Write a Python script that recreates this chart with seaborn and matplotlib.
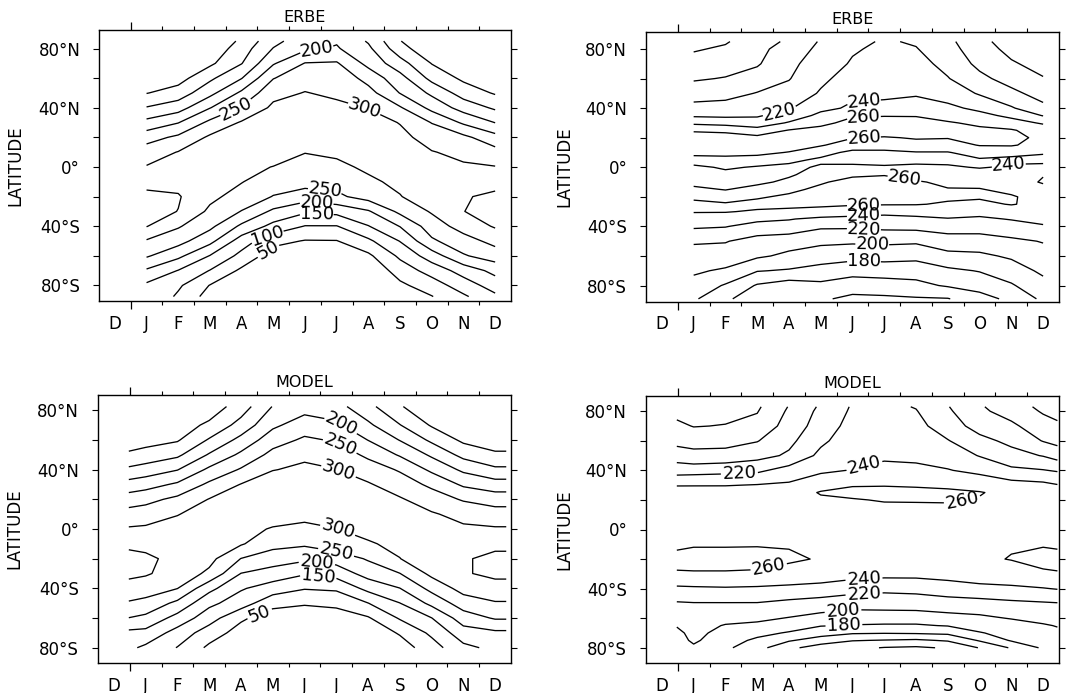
import numpy as np
import matplotlib
matplotlib.use("Agg")
import matplotlib.pyplot as plt
import seaborn as sns

# ---------------- axis text ----------------
MONTH_LABELS = ["D", "J", "F", "M", "A", "M", "J", "J", "A", "S", "O", "N", "D"]
LAT_TICKS = [80, 40, 0, -40, -80]
LAT_TICK_LABELS = ["80°N", "40°N", "0°", "40°S", "80°S"]

# ---------------- ERBE absorbed solar (top left) ----------------
ERBE_ASR_X = [1.5, 2.5, 3.5, 4.5, 5.5, 6.5, 7.5, 8.5, 9.5, 10.5, 11.5, 12.5]
ERBE_ASR_LAT = [85, 80, 70, 60, 50, 40, 30, 20, 10, 0, -10, -20, -30, -40, -50, -60, -70, -80, -87.5]
ERBE_ASR = [  # one list per month, values along ERBE_ASR_LAT
    [0, 0, 5, 22, 48, 103, 165, 230, 275, 303, 335, 362, 368, 352, 295, 256, 193, 140, 145],
    [0, 3, 15, 30, 72, 128, 198, 260, 302, 320, 335, 354, 349, 305, 268, 212, 148, 108, 92],
    [5, 15, 40, 90, 135, 198, 262, 308, 322, 325, 320, 312, 290, 262, 215, 148, 98, 48, 30],
    [60, 75, 98, 148, 210, 255, 305, 330, 320, 310, 302, 280, 248, 190, 125, 85, 40, 12, 3],
    [135, 152, 195, 248, 285, 310, 340, 340, 318, 299, 272, 248, 190, 135, 65, 25, 10, 0, 0],
    [180, 190, 252, 280, 302, 330, 345, 335, 302, 275, 270, 225, 158, 98, 47, 15, 0, 0, 0],
    [195, 205, 255, 285, 290, 312, 335, 328, 308, 290, 268, 240, 165, 98, 48, 15, 0, 0, 0],
    [145, 160, 185, 232, 268, 298, 320, 322, 315, 308, 292, 270, 195, 148, 90, 40, 10, 0, 0],
    [52, 70, 120, 168, 198, 255, 298, 312, 318, 316, 310, 298, 262, 202, 152, 110, 72, 40, 25],
    [0, 10, 48, 85, 140, 185, 248, 282, 302, 318, 330, 328, 305, 275, 242, 175, 120, 75, 48],
    [0, 0, 15, 40, 78, 130, 192, 262, 290, 305, 330, 345, 349, 320, 280, 245, 170, 125, 92],
    [0, 0, 3, 20, 45, 92, 149, 218, 268, 302, 330, 362, 372, 355, 315, 275, 215, 172, 140],
]

# ---------------- ERBE outgoing longwave (top right) ----------------
ERBE_OLR_X = [1.5, 2.5, 3.5, 4.5, 5.5, 6.5, 7.5, 8.5, 9.5, 10.5, 11.5, 12.5]
ERBE_OLR_LAT = [85, 80, 70, 60, 50, 40, 35, 30, 25, 20, 15, 10, 5, 0, -5, -10, -15, -20, -25,
                -30, -35, -40, -50, -60, -70, -80, -89]
ERBE_OLR = [
    [155, 158, 168, 178, 190, 207, 217, 236, 257, 272, 275, 266, 252, 235, 230, 233, 245, 256, 265, 261, 253, 243, 222, 213, 203, 193, 183],
    [158, 163, 172, 181, 193, 208, 216, 233, 255, 270, 273, 265, 255, 243, 234, 231, 239, 252, 262, 261, 251, 241, 221, 212, 197, 178, 163],
    [172, 175, 178, 188, 201, 213, 218, 228, 248, 265, 270, 265, 252, 238, 232, 235, 248, 258, 265, 258, 245, 232, 213, 203, 181, 158, 150],
    [183, 188, 195, 199, 207, 218, 228, 242, 261, 268, 270, 259, 244, 236, 237, 245, 256, 263, 266, 255, 241, 233, 208, 196, 178, 150, 145],
    [202, 205, 210, 216, 222, 235, 245, 255, 266, 270, 262, 246, 237, 242, 250, 258, 264, 266, 264, 253, 236, 223, 205, 188, 174, 155, 143],
    [215, 218, 222, 228, 236, 243, 258, 266, 272, 261, 249, 236, 234, 244, 257, 266, 270, 268, 262, 250, 234, 223, 203, 187, 167, 150, 135],
    [222, 224, 228, 232, 237, 244, 259, 268, 274, 258, 249, 236, 234, 242, 259, 267, 271, 268, 261, 249, 230, 225, 204, 188, 168, 152, 136],
    [218, 221, 227, 231, 238, 248, 259, 266, 271, 262, 252, 239, 236, 243, 252, 262, 268, 266, 261, 247, 236, 226, 203, 186, 168, 155, 138],
    [205, 208, 214, 221, 232, 244, 252, 262, 266, 261, 252, 239, 236, 242, 250, 256, 261, 263, 258, 248, 239, 230, 210, 195, 176, 162, 139],
    [185, 188, 195, 205, 218, 236, 245, 256, 264, 266, 261, 248, 238, 239, 247, 254, 261, 262, 256, 246, 237, 228, 212, 196, 181, 168, 152],
    [172, 175, 182, 192, 205, 222, 236, 247, 262, 266, 262, 244, 237, 242, 247, 250, 255, 262, 261, 250, 241, 233, 216, 203, 190, 178, 165],
    [165, 168, 174, 181, 192, 205, 219, 238, 250, 255, 252, 241, 237, 243, 241, 238, 247, 252, 255, 253, 246, 238, 221, 213, 204, 193, 184],
]

# ---------------- MODEL absorbed solar (bottom left) ----------------
MODEL_ASR_X = [0.97, 1.5, 2.5, 3.5, 4.5, 5.5, 6.5, 7.5, 8.5, 9.5, 10.5, 11.5, 12.5, 12.85]
MODEL_ASR_LAT = [82.5, 70, 60, 50, 40, 30, 20, 10, 0, -10, -20, -30, -40, -50, -60, -70, -80]
MODEL_ASR = [
    [0, 5, 25, 58, 110, 170, 225, 270, 305, 340, 365, 362, 330, 295, 249, 188, 160],
    [0, 10, 32, 68, 122, 180, 235, 275, 308, 338, 358, 355, 325, 285, 238, 185, 140],
    [5, 25, 45, 90, 148, 208, 262, 298, 318, 330, 338, 330, 301, 238, 182, 130, 98],
    [20, 60, 105, 155, 210, 260, 302, 320, 325, 322, 315, 290, 215, 162, 122, 75, 40],
    [75, 118, 165, 210, 255, 302, 330, 332, 320, 305, 249, 199, 155, 125, 58, 30, 10],
    [152, 190, 228, 265, 298, 328, 340, 330, 295, 265, 226, 178, 127, 65, 25, 10, 0],
    [180, 225, 258, 290, 310, 335, 340, 318, 285, 258, 210, 155, 103, 55, 20, 5, 0],
    [168, 210, 245, 278, 301, 325, 335, 322, 299, 280, 222, 170, 108, 62, 25, 8, 0],
    [115, 160, 199, 240, 275, 305, 318, 320, 315, 295, 255, 220, 165, 99, 45, 15, 0],
    [55, 102, 148, 195, 245, 275, 305, 315, 318, 312, 299, 249, 199, 149, 105, 55, 25],
    [10, 45, 90, 142, 190, 240, 275, 305, 322, 335, 335, 312, 265, 213, 149, 110, 78],
    [0, 15, 40, 85, 140, 192, 245, 285, 308, 330, 345, 345, 318, 275, 225, 178, 138],
    [0, 5, 25, 58, 110, 172, 228, 272, 305, 338, 362, 362, 330, 296, 255, 190, 162],
    [0, 5, 25, 58, 110, 172, 228, 272, 305, 338, 362, 362, 330, 296, 255, 190, 162],
]

# ---------------- MODEL outgoing longwave (bottom right) ----------------
MODEL_OLR_X = [0.97, 1.5, 2.5, 3.5, 4.5, 5.5, 6.5, 7.5, 8.5, 9.5, 10.5, 11.5, 12.5, 12.95]
MODEL_OLR_LAT = [83, 80, 70, 60, 50, 40, 30, 25, 20, 10, 0, -10, -20, -30, -40, -50, -60, -65, -70, -75, -80]
MODEL_OLR = [
    [150, 153, 165, 174, 190, 211, 239, 248, 252, 254, 256, 258, 263, 259, 236, 218, 207, 201, 196, 193, 190],
    [150, 154, 159, 175, 184, 212, 239, 249, 253, 255, 256, 259, 264, 259, 237, 219, 209, 206, 205, 203, 197],
    [150, 153, 161, 174, 186, 214, 239, 250, 254, 256, 257, 259, 264, 259, 238, 219, 205, 199, 194, 189, 184],
    [157, 159, 166, 179, 193, 216, 241, 251, 255, 257, 258, 259, 265, 258, 237, 219, 204, 196, 186, 176, 167],
    [181, 183, 188, 195, 203, 228, 243, 253, 257, 258, 258, 259, 262, 255, 235, 215, 199, 190, 178, 162, 145],
    [203, 205, 209, 216, 225, 236, 255, 261, 258, 256, 256, 257, 259, 253, 232, 212, 193, 181, 168, 151, 130],
    [222, 223, 227, 231, 236, 241, 259, 264, 259, 254, 253, 256, 257, 248, 227, 209, 188, 179, 162, 141, 125],
    [225, 226, 229, 233, 237, 245, 259, 266, 261, 254, 252, 255, 256, 246, 224, 210, 188, 178, 161, 139, 119],
    [219, 221, 226, 231, 236, 244, 258, 265, 261, 255, 253, 255, 256, 246, 225, 211, 188, 178, 162, 137, 117],
    [201, 203, 210, 221, 231, 241, 257, 263, 261, 256, 254, 256, 257, 248, 230, 212, 193, 181, 164, 142, 122],
    [182, 184, 192, 206, 219, 235, 253, 261, 259, 257, 256, 257, 258, 252, 234, 213, 196, 186, 179, 162, 141],
    [170, 172, 184, 195, 207, 224, 248, 255, 257, 258, 258, 259, 260.5, 254, 236, 216, 201, 192, 185, 182, 162],
    [155, 158, 168, 179, 199, 221, 245, 252, 255, 256, 257, 259, 264, 258, 239, 218, 206, 198, 194, 189, 183],
    [150, 153, 164, 174, 192, 218, 241, 249, 253, 255, 256, 258, 264, 259, 241, 219, 207, 201, 196, 192, 188],
]

ASR_LEVELS = [50, 100, 150, 200, 250, 300, 350]
OLR_LEVELS = [120, 140, 160, 180, 200, 220, 240, 260]

# label anchor points (x in months, y in latitude)
ERBE_ASR_LABELS = [(6.87, 79.5), (4.34, 38.8), (8.34, 36.6), (7.13, -15.3), (6.87, -23.3),
                   (6.87, -31.2), (5.31, -46.5), (5.34, -56.4)]
ERBE_OLR_LABELS = [(4.19, 39.1), (6.86, 43.6), (6.86, 32.3), (6.86, 19.2), (11.41, 3.4),
                   (8.14, -6.8), (6.86, -24.6), (6.86, -32.8), (6.86, -41.1), (7.12, -53.6),
                   (6.86, -64.9)]
MODEL_ASR_LABELS = [(7.56, 67.7), (7.56, 54.2), (7.56, 38.5), (7.56, 0.4), (7.5, -15.2),
                    (6.88, -24.2), (6.93, -32.5), (5.1, -57.8)]
MODEL_OLR_LABELS = [(2.94, 37.7), (6.88, 42.1), (9.93, 22.0), (3.88, -27.3), (6.86, -32.9),
                    (6.86, -41.9), (6.2, -54.7), (6.23, -64.8)]

# ---------------- style ----------------
sns.set_style("ticks")
plt.rcParams["font.family"] = ["DejaVu Sans"]
plt.rcParams["axes.linewidth"] = 1.0
for key in ["text.color", "axes.labelcolor", "xtick.color", "ytick.color", "axes.edgecolor"]:
    plt.rcParams[key] = "black"

W, H = 1066, 693
fig = plt.figure(figsize=(W / 100, H / 100), dpi=100)


def panel(rect_px, x, lat, cols, levels, label_pts, title, ylim, ylabel_x):
    left, top, right, bottom = rect_px
    ax = fig.add_axes([left / W, 1 - bottom / H, (right - left) / W, (bottom - top) / H])
    z = np.array(cols, dtype=float).T
    cs = ax.contour(np.array(x), np.array(lat), z, levels=levels, colors="black",
                    linewidths=0.95)
    ax.clabel(cs, levels=levels, manual=label_pts, fmt="%d", fontsize=13,
              inline=True, inline_spacing=3, colors="black")
    ax.set_xlim(0, 13)
    ax.set_ylim(*ylim)
    # month boundary ticks
    ax.set_xticks([1])
    ax.set_xticklabels([""])
    ax.set_xticks(np.arange(2, 13), minor=True)
    ax.tick_params(axis="x", which="major", length=6, width=0.9, direction="out",
                   top=True, bottom=True, color="black")
    ax.tick_params(axis="x", which="minor", length=3, width=0.8, direction="out",
                   top=True, bottom=True, color="black")
    # month labels centred in each month
    sec = ax.secondary_xaxis("bottom")
    sec.set_xticks(np.arange(0.5, 13, 1.0), labels=MONTH_LABELS)
    sec.tick_params(axis="x", length=0, pad=10, labelsize=12, labelcolor="black")
    sec.spines["bottom"].set_visible(False)
    # latitude axis
    ax.set_yticks(LAT_TICKS)
    ax.set_yticklabels(LAT_TICK_LABELS)
    ax.set_yticks([60, 20, -20, -60], minor=True)
    ax.tick_params(axis="y", which="both", length=4.5, width=0.8, direction="out",
                   left=True, right=True, labelsize=12, pad=9, color="black",
                   labelcolor="black")
    ax.set_ylabel("LATITUDE", fontsize=12, color="black")
    ax.yaxis.set_label_coords(ylabel_x, 0.5)
    ax.set_title(title, fontsize=11.5, pad=6, color="black")
    for s in ax.spines.values():
        s.set_linewidth(1.0)
        s.set_color("black")
    return ax


panel((99, 30, 511, 301), ERBE_ASR_X, ERBE_ASR_LAT, ERBE_ASR, ASR_LEVELS,
      ERBE_ASR_LABELS, "ERBE", (-90.5, 92.5), -0.18)
panel((646, 32, 1059, 301.5), ERBE_OLR_X, ERBE_OLR_LAT, ERBE_OLR, OLR_LEVELS,
      ERBE_OLR_LABELS, "ERBE", (-90.8, 91.5), -0.175)
panel((98, 395, 511, 663), MODEL_ASR_X, MODEL_ASR_LAT, MODEL_ASR, ASR_LEVELS,
      MODEL_ASR_LABELS, "MODEL", (-90.3, 90.3), -0.18)
panel((646, 396, 1059, 663), MODEL_OLR_X, MODEL_OLR_LAT, MODEL_OLR, OLR_LEVELS,
      MODEL_OLR_LABELS, "MODEL", (-90.3, 90.3), -0.175)

fig.savefig("out.png", dpi=100)
